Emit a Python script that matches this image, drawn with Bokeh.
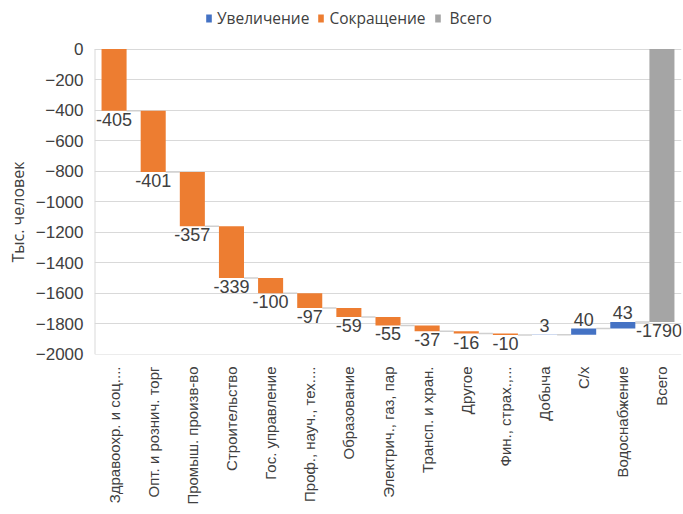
import math
import numpy as np
from bokeh.plotting import figure
from bokeh.models import (FactorRange, Range1d, FixedTicker, ColumnDataSource,
                          Legend, LegendItem, Title)
from bokeh.transform import dodge
from bokeh.core.properties import value
from bokeh.embed import file_html
from bokeh.resources import INLINE

# ---- data ----
categories = ["Здравоохр. и соц....", "Опт. и рознич. торг", "Промыш. произв-во",
              "Строительство", "Гос. управление", "Проф., науч., тех....",
              "Образование", "Электрич., газ, пар", "Трансп. и хран.", "Другое",
              "Фин., страх.,...", "Добыча", "С/х", "Водоснабжение", "Всего"]
changes = [-405, -401, -357, -339, -100, -97, -59, -55, -37, -16, -10, 3, 40, 43]
total_value = -1790
y_ticks = [0, -200, -400, -600, -800, -1000, -1200, -1400, -1600, -1800, -2000]

BLUE = "#4472C4"
ORANGE = "#ED7D31"
GRAY = "#A5A5A5"
GRID = "#d9d9d9"

ends = np.cumsum(changes)
starts = ends - np.array(changes)

step_cats = categories[:-1]
inc = [i for i, c in enumerate(changes) if c > 0]
dec = [i for i, c in enumerate(changes) if c < 0]

src_inc = ColumnDataSource(dict(x=[step_cats[i] for i in inc],
                                top=[float(max(starts[i], ends[i])) for i in inc],
                                bottom=[float(min(starts[i], ends[i])) for i in inc]))
src_dec = ColumnDataSource(dict(x=[step_cats[i] for i in dec],
                                top=[float(max(starts[i], ends[i])) for i in dec],
                                bottom=[float(min(starts[i], ends[i])) for i in dec]))
src_tot = ColumnDataSource(dict(x=[categories[-1]], top=[0.0], bottom=[float(total_value)]))

# the frame is extended upward so that the legend can sit inside it
FRAME_H = 354
PLOT_H = 305
y_lo = min(y_ticks) - 2000 / PLOT_H * 0.5
y_hi = max(y_ticks) + (max(y_ticks) - min(y_ticks)) / PLOT_H * (FRAME_H - PLOT_H - 0.5)

p = figure(x_range=FactorRange(*categories), y_range=Range1d(y_lo, y_hi),
           frame_width=587, frame_height=FRAME_H,
           min_border_left=87, min_border_right=1, min_border_top=0, min_border_bottom=152,
           output_backend="svg", toolbar_location=None)
p.outline_line_color = None
p.xgrid.grid_line_color = None
p.ygrid.grid_line_color = GRID
p.ygrid.grid_line_width = 1

# left border of the plot area
border = ColumnDataSource(dict(a=[categories[0]], y0=[float(min(y_ticks))], y1=[float(max(y_ticks))]))
p.segment(x0=dodge("a", -0.5, range=p.x_range), x1=dodge("a", -0.5, range=p.x_range),
          y0="y0", y1="y1", source=border, line_color=GRID, line_width=2)

# connectors
con = ColumnDataSource(dict(a=categories[:-1], b=categories[1:], y=[float(v) for v in ends]))
p.segment(x0=dodge("a", 0.32, range=p.x_range), x1=dodge("b", -0.32, range=p.x_range),
          y0="y", y1="y", source=con, line_color="#d0d0d0", line_width=1.5)

W = 0.64
r_inc = p.vbar(x="x", top="top", bottom="bottom", width=W, source=src_inc,
               fill_color=BLUE, line_color=None)
r_dec = p.vbar(x="x", top="top", bottom="bottom", width=W, source=src_dec,
               fill_color=ORANGE, line_color=None)
r_tot = p.vbar(x="x", top="top", bottom="bottom", width=W, source=src_tot,
               fill_color=GRAY, line_color=None)

# data labels
lab_dn = ColumnDataSource(dict(
    x=[step_cats[i] for i in dec],
    y=[float(ends[i]) for i in dec],
    t=[str(changes[i]) for i in dec]))
lab_up = ColumnDataSource(dict(
    x=[step_cats[i] for i in inc],
    y=[float(ends[i]) for i in inc],
    t=[str(changes[i]) for i in inc]))
lab_tot = ColumnDataSource(dict(x=[categories[-1]], y=[float(total_value)], t=[str(total_value)]))
LBL = dict(text_font=value("Liberation Sans"), text_font_size="18px", text_color="#404040")
p.text(x="x", y="y", text="t", source=lab_dn, text_align="center", text_baseline="top",
       y_offset=2, **LBL)
p.text(x="x", y="y", text="t", source=lab_up, text_align="center", text_baseline="bottom",
       y_offset=-3, **LBL)
p.text(x="x", y="y", text="t", source=lab_tot, text_align="center", text_baseline="top",
       y_offset=2, x_offset=-3, **LBL)

# axes
p.yaxis.ticker = FixedTicker(ticks=y_ticks)
p.yaxis.axis_line_color = None
p.yaxis.major_tick_line_color = None
p.yaxis.minor_tick_line_color = None
p.yaxis.major_tick_out = 0
p.yaxis.major_label_standoff = 11
p.yaxis.major_label_text_font = "Liberation Sans"
p.yaxis.major_label_text_font_size = "17px"
p.yaxis.major_label_text_color = "#404040"

ytitle = Title(text="Тыс. человек", align="left", offset=92, standoff=8,
               text_font="Open Sans", text_font_size="16px", text_font_style="normal",
               text_color="#404040")
p.add_layout(ytitle, "left")

p.xaxis.axis_line_color = None
p.xaxis.major_tick_line_color = None
p.xaxis.major_tick_out = 0
p.xaxis.major_label_orientation = math.pi / 2
p.xaxis.major_label_standoff = 12
p.xaxis.major_label_text_font = "Liberation Sans"
p.xaxis.major_label_text_font_size = "15px"
p.xaxis.major_label_text_color = "#404040"

legend = Legend(items=[LegendItem(label="Увеличение", renderers=[r_inc]),
                       LegendItem(label="Сокращение", renderers=[r_dec]),
                       LegendItem(label=" Всего", renderers=[r_tot])],
                location=(111, 325), orientation="horizontal",
                glyph_width=7, glyph_height=10, label_standoff=5, spacing=8,
                padding=0, border_line_color=None, background_fill_alpha=0,
                label_text_font="Open Sans", label_text_font_size="15.5px",
                label_text_color="#404040", label_height=12)
p.add_layout(legend, "center")

open("out.html", "w").write(file_html(p, INLINE))
